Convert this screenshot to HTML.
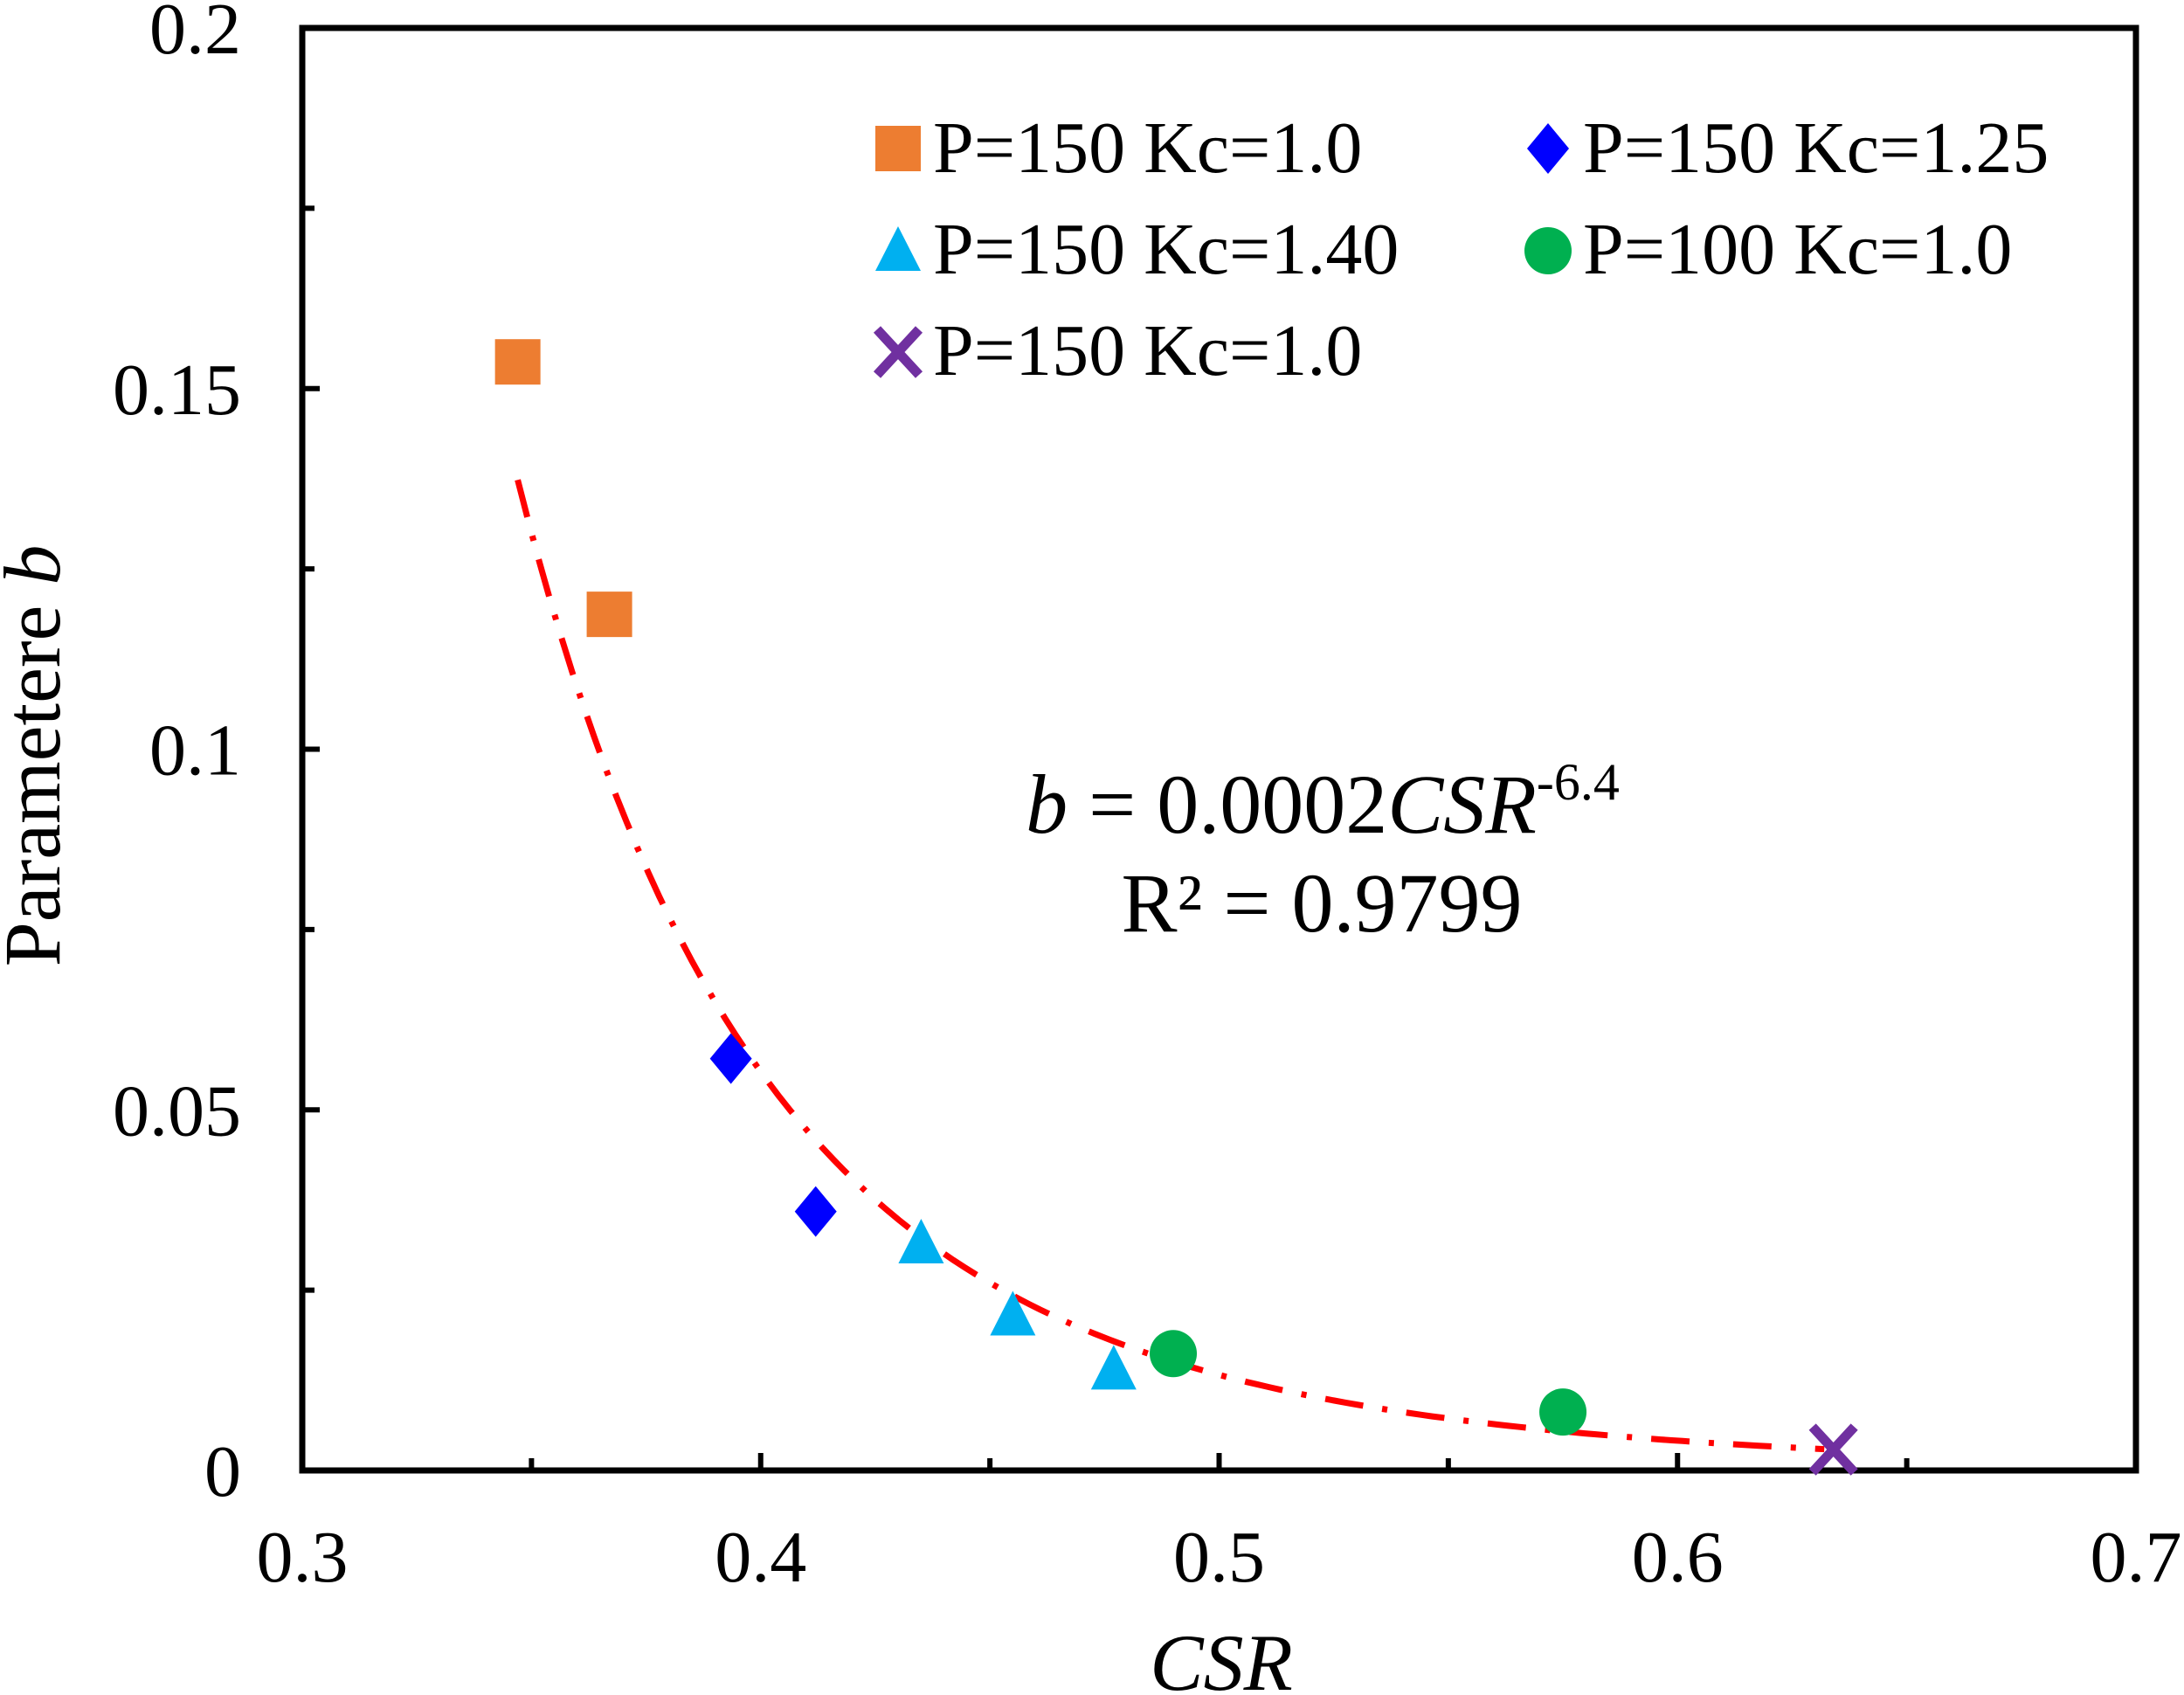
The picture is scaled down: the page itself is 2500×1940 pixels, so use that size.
<!DOCTYPE html>
<html><head><meta charset="utf-8"><style>
html,body{margin:0;padding:0;background:#fff;}
svg{display:block;font-family:"Liberation Serif",serif;}
body{position:relative;width:2500px;height:1940px;overflow:hidden}
</style></head><body>
<svg id="chart" width="2500" height="1940" viewBox="0 0 2500 1940" xmlns="http://www.w3.org/2000/svg">
<rect x="0" y="0" width="2500" height="1940" fill="#fff"/>
<g id="plot"></g>
</svg>
<script>
const xTicks = [0.3, 0.4, 0.5, 0.6, 0.7];
const xTickLabels = ["0.3", "0.4", "0.5", "0.6", "0.7"];
const yTicks = [0, 0.05, 0.1, 0.15, 0.2];
const yTickLabels = ["0", "0.05", "0.1", "0.15", "0.2"];
const sqX = [0.347, 0.367];
const sqY = [0.1537, 0.1187];
const diaX = [0.3935, 0.412];
const diaY = [0.0571, 0.0359];
const triX = [0.435, 0.455, 0.477];
const triY = [0.0315, 0.0215, 0.0140];
const cirX = [0.490, 0.575];
const cirY = [0.0162, 0.0081];
const crossX = [0.634];
const crossY = [0.0029];
const fitCoef = 0.000157;
const fitExp = -6.4;
const fitRange = [0.347, 0.632];

const NS = "http://www.w3.org/2000/svg";
const L = 346, R = 2445, T = 32, B = 1683;
function sx(v){ return L + (v - 0.3) / 0.4 * (R - L); }
function sy(v){ return B - v / 0.2 * (B - T); }
const g = document.getElementById('plot');
function el(tag, attrs, parent){
  const e = document.createElementNS(NS, tag);
  for (const k in attrs) e.setAttribute(k, attrs[k]);
  (parent || g).appendChild(e);
  return e;
}

const frame = el('rect', {x:L, y:T, width:R-L, height:B-T, fill:'none', stroke:'#000', 'stroke-width':7});



for (let i = 0; i < xTicks.length; i++) {
  const x = sx(xTicks[i]);
  if (i > 0 && i < xTicks.length - 1) {
    const t = el('line', {x1:x, y1:B, x2:x, y2:B-20, stroke:'#000', 'stroke-width':6});
    
    
  }
  if (i < xTicks.length - 1) {
    const xm = sx((xTicks[i] + xTicks[i+1]) / 2);
    const m = el('line', {x1:xm, y1:B, x2:xm, y2:B-14, stroke:'#000', 'stroke-width':6});
    
    
  }
  const lb = el('text', {x:x, y:1810, 'font-size':84, 'text-anchor':'middle', fill:'#000'});
  lb.textContent = xTickLabels[i];
  
  
}
for (let i = 0; i < yTicks.length; i++) {
  const y = sy(yTicks[i]);
  if (i > 0 && i < yTicks.length - 1) {
    const t = el('line', {x1:L, y1:y, x2:L+20, y2:y, stroke:'#000', 'stroke-width':6});
    
    
  }
  if (i < yTicks.length - 1) {
    const ym = sy((yTicks[i] + yTicks[i+1]) / 2);
    const m = el('line', {x1:L, y1:ym, x2:L+14, y2:ym, stroke:'#000', 'stroke-width':6});
    
    
  }
  const lb = el('text', {x:276, y:y+29, 'font-size':84, 'text-anchor':'end', fill:'#000'});
  lb.textContent = yTickLabels[i];
  
  
}

let d = '';
const N = 120;
for (let i = 0; i <= N; i++) {
  const xv = fitRange[0] + (fitRange[1] - fitRange[0]) * i / N;
  const yv = fitCoef * Math.pow(xv, fitExp);
  d += (i ? 'L' : 'M') + sx(xv).toFixed(1) + ',' + sy(yv).toFixed(1);
}
const curve = el('path', {d:d, fill:'none', stroke:'#FF0000', 'stroke-width':7, 'stroke-dasharray':'44 22 6 22'});



function square(cx, cy, name, p){ const e = el('rect', {x:cx-26, y:cy-26, width:52, height:52, fill:'#ED7D31'}, p);   }
function diamond(cx, cy, name, p){ const e = el('polygon', {points:`${cx},${cy-29} ${cx+24},${cy} ${cx},${cy+29} ${cx-24},${cy}`, fill:'#0000FF'}, p);   }
function tri(cx, cy, name, p){ const e = el('polygon', {points:`${cx},${cy-28} ${cx+26},${cy+23} ${cx-26},${cy+23}`, fill:'#00B0F0'}, p);   }
function circ(cx, cy, name, p){ const e = el('circle', {cx:cx, cy:cy, r:27, fill:'#00B050'}, p);   }
function cross(cx, cy, name, p){ const e = el('path', {d:`M${cx-24},${cy-26}L${cx+24},${cy+26}M${cx+24},${cy-26}L${cx-24},${cy+26}`, stroke:'#7030A0', 'stroke-width':11, fill:'none'}, p);   }

for (let i = 0; i < sqX.length; i++) square(sx(sqX[i]), sy(sqY[i]), 'point-p150-kc1.0');
for (let i = 0; i < diaX.length; i++) diamond(sx(diaX[i]), sy(diaY[i]), 'point-p150-kc1.25');
for (let i = 0; i < triX.length; i++) tri(sx(triX[i]), sy(triY[i]), 'point-p150-kc1.40');
for (let i = 0; i < cirX.length; i++) circ(sx(cirX[i]), sy(cirY[i]), 'point-p100-kc1.0');
for (let i = 0; i < crossX.length; i++) cross(sx(crossX[i]), sy(crossY[i]), 'point-p150-kc1.0-cross');

const lg = el('g', {});


const legendItems = [
  [square, 1028, 170, 1068, 197, 'P=150 Kc=1.0'],
  [diamond, 1772, 170, 1812, 197, 'P=150 Kc=1.25'],
  [tri, 1028, 287, 1068, 313, 'P=150 Kc=1.40'],
  [circ, 1772, 287, 1812, 313, 'P=100 Kc=1.0'],
  [cross, 1028, 403, 1068, 429, 'P=150 Kc=1.0']
];
legendItems.forEach(it => {
  it[0](it[1], it[2], 'legend-marker', lg);
  const t = el('text', {x:it[3], y:it[4], 'font-size':84, fill:'#000'}, lg);
  t.textContent = it[5];
  
  
});
</script>
<svg style="position:absolute;left:0;top:0" width="2500" height="1940" xmlns="http://www.w3.org/2000/svg">
<text x="1514" y="953" font-size="96" text-anchor="middle" font-family="Liberation Serif, serif"><tspan font-style="italic">b</tspan> = 0.0002<tspan font-style="italic">CSR</tspan><tspan font-size="60" dy="-38">-6.4</tspan></text>
<text x="1513" y="1066" font-size="96" text-anchor="middle" font-family="Liberation Serif, serif">R² = 0.9799</text>
<text x="1398" y="1934" font-size="92" font-style="italic" text-anchor="middle" font-family="Liberation Serif, serif">CSR</text>
<text transform="translate(68,865) rotate(-90)" font-size="92" text-anchor="middle" font-family="Liberation Serif, serif">Parametere <tspan font-style="italic">b</tspan></text>
</svg>
</body></html>
